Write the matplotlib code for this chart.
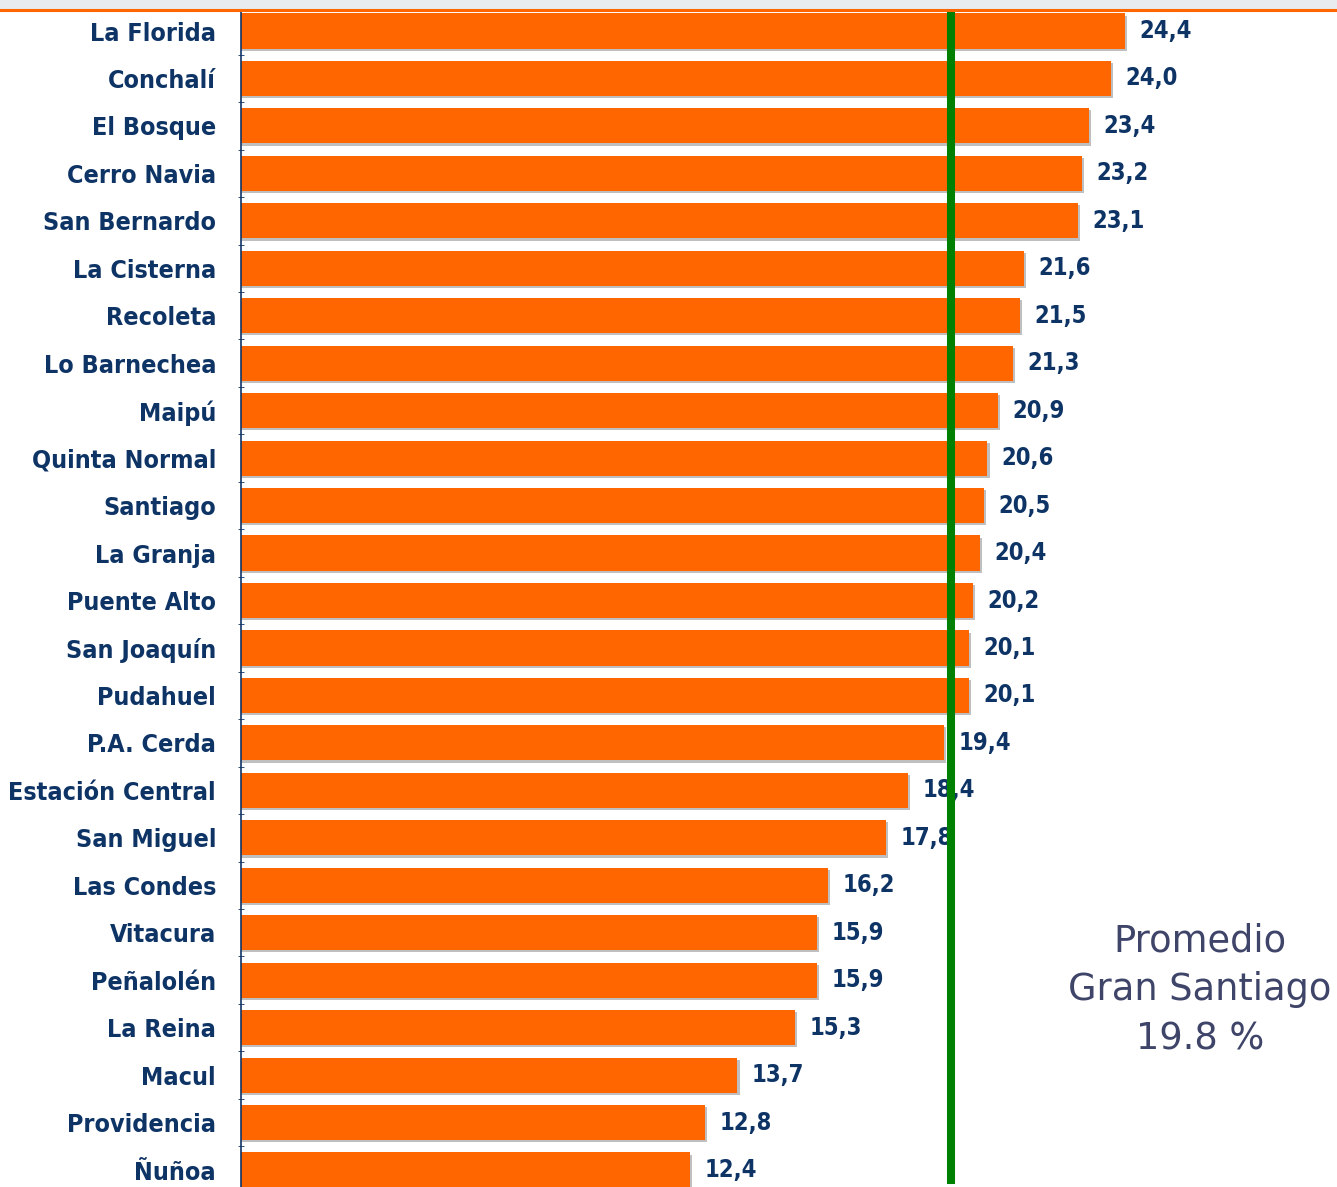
import matplotlib.pyplot as plt
from matplotlib.patches import Rectangle
from matplotlib.lines import Line2D

comunas = ["La Florida", "Conchalí", "El Bosque", "Cerro Navia", "San Bernardo",
           "La Cisterna", "Recoleta", "Lo Barnechea", "Maipú", "Quinta Normal",
           "Santiago", "La Granja", "Puente Alto", "San Joaquín", "Pudahuel",
           "P.A. Cerda", "Estación Central", "San Miguel", "Las Condes", "Vitacura",
           "Peñalolén", "La Reina", "Macul", "Providencia", "Ñuñoa"]
valores = [24.4, 24.0, 23.4, 23.2, 23.1, 21.6, 21.5, 21.3, 20.9, 20.6,
           20.5, 20.4, 20.2, 20.1, 20.1, 19.4, 18.4, 17.8, 16.2, 15.9,
           15.9, 15.3, 13.7, 12.8, 12.4]
promedio_linea = 19.6   # where the green line sits in the picture
promedio_texto = "Promedio\nGran Santiago\n19.8 %"

W, H = 1337, 1187
fig = plt.figure(figsize=(W / 100, H / 100), dpi=100)

# grey band and orange rule at the very top
fig.patches.append(Rectangle((0, 1 - 9 / H), 1, 9 / H, transform=fig.transFigure,
                             color="#e8ecee", zorder=0))
fig.lines.append(Line2D([0, 1], [1 - 10 / H, 1 - 10 / H], transform=fig.transFigure,
                        color="#ff6600", lw=2.2))

ax = fig.add_axes([241 / W, 0, (W - 241) / W, (H - 11) / H])
px = 36.23          # pixels per unit on x
row = 47.46         # pixels per row

pos = list(range(len(comunas)))
h = 0.74
# soft grey shadow behind each bar
ax.barh([p + 0.045 for p in pos], [v + 0.06 for v in valores], height=h,
        color="#bfbfbf", zorder=1)
ax.barh(pos, valores, height=h, color="#ff6600", zorder=2)

navy = "#0e3466"
fuente = dict(family="DejaVu Sans", fontstretch="condensed", fontweight="bold")
for p, v in zip(pos, valores):
    ax.text(v + 0.4, p, f"{v:.1f}".replace(".", ","), va="center", ha="left",
            fontsize=17, color=navy, zorder=2, **fuente)

ax.axvline(promedio_linea, ymin=0.006, ymax=0.997, color="#008000", lw=5.8, zorder=3)

ax.set_yticks(pos)
ax.set_yticklabels(comunas, fontsize=18, color=navy, **fuente)
ax.tick_params(axis="y", length=0, pad=18)
ax.set_yticks([p + 0.5 for p in pos], minor=True)
ax.tick_params(axis="y", which="minor", length=4, direction="inout", color=navy)
ax.set_xticks([])
for s in ["top", "right", "bottom"]:
    ax.spines[s].set_visible(False)
ax.spines["left"].set_color(navy)
ax.spines["left"].set_linewidth(1.2)

# limits last so the tick calls do not widen them
ax.set_xlim(0, (W - 241) / px)
ax.set_ylim((H - 31) / row, -(31 - 11) / row)

fig.text(1200 / W, 1 - 990 / H, promedio_texto, ha="center", va="center",
         fontsize=26.5, color="#3f4469", linespacing=1.42)

fig.savefig("out.png", dpi=100)
